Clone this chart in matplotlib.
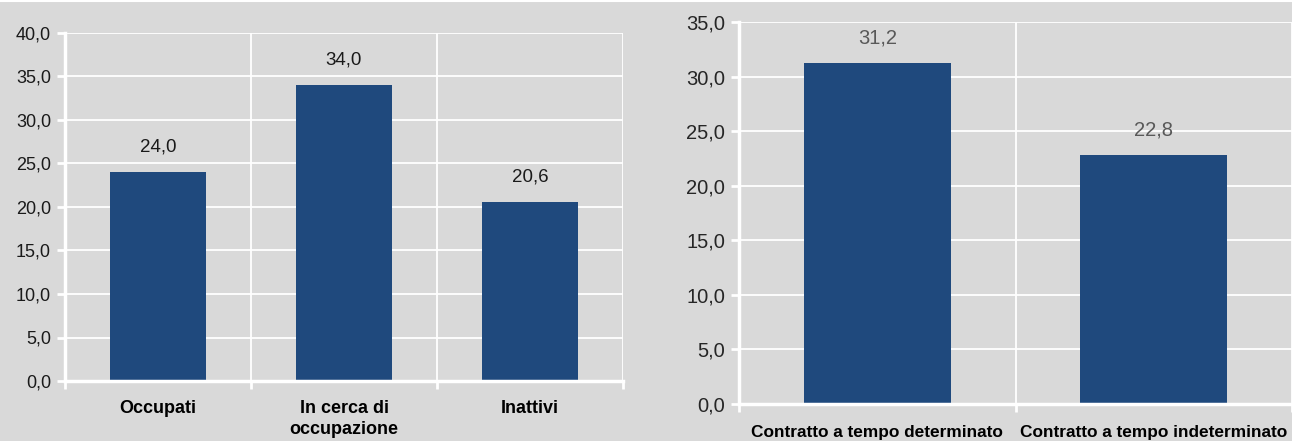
import matplotlib
matplotlib.use("Agg")
import matplotlib.pyplot as plt
from matplotlib.ticker import FuncFormatter, MultipleLocator
from matplotlib.lines import Line2D

# data
cat_left = ["Occupati", "In cerca di\noccupazione", "Inattivi"]
val_left = [24.0, 34.0, 20.6]
cat_right = ["Contratto a tempo determinato", "Contratto a tempo indeterminato"]
val_right = [31.2, 22.8]

bg = "#d9d9d9"
bar_col = "#1f497d"
fam = ["Liberation Sans Narrow", "Liberation Sans", "DejaVu Sans"]
plt.rcParams["font.family"] = fam

comma = FuncFormatter(lambda v, p: f"{v:.1f}".replace(".", ","))

fig = plt.figure(figsize=(12.92, 4.41), dpi=100, facecolor=bg)
ax1 = fig.add_axes([65 / 1292, 1 - 381 / 441, (623 - 65) / 1292, (381 - 33) / 441])
ax2 = fig.add_axes([739 / 1292, 1 - 404 / 441, (1292 - 739) / 1292, (404 - 22) / 441])

# top white strip
fig.add_artist(Line2D([0, 1], [1 - 1 / 441, 1 - 1 / 441], color="white", lw=1.5,
                      transform=fig.transFigure))


def style(ax, cats, vals, ymax, width, tick_fs, tick_col, val_col, val_fs, cat_fs, label_pad):
    ax.set_facecolor(bg)
    x = range(len(cats))
    bars = ax.bar(x, vals, width=width, color=bar_col, zorder=3)
    ax.set_xlim(-0.5, len(cats) - 0.5)
    ax.set_ylim(0, ymax)
    ax.yaxis.set_major_locator(MultipleLocator(5))
    ax.yaxis.set_major_formatter(comma)
    ax.grid(axis="y", color="white", lw=1.3, zorder=0)
    # vertical separators between categories
    for b in [i + 0.5 for i in range(len(cats))]:
        ax.axvline(b, color="white", lw=1.3, zorder=0)
    for s in ["top", "right"]:
        ax.spines[s].set_visible(False)
    for s in ["left", "bottom"]:
        ax.spines[s].set_color("white")
        ax.spines[s].set_linewidth(2.5)
        ax.spines[s].set_zorder(4)
    ax.tick_params(axis="y", colors="white", length=6, width=2, labelcolor=tick_col,
                   labelsize=tick_fs, pad=4)
    ax.set_xticks(list(x))
    ax.set_xticklabels(cats, fontweight="bold", fontsize=cat_fs, color="black",
                       linespacing=1.3)
    ax.tick_params(axis="x", length=0, pad=label_pad)
    ax.set_xticks([i - 0.5 for i in range(len(cats) + 1)], minor=True)
    ax.tick_params(axis="x", which="minor", colors="white", length=6, width=2)
    for r, v in zip(bars, vals):
        ax.annotate(f"{v:.1f}".replace(".", ","), (r.get_x() + r.get_width() / 2, v),
                    xytext=(0, 18), textcoords="offset points", ha="center", va="center",
                    fontsize=val_fs, color=val_col)


style(ax1, cat_left, val_left, 40, 0.52, 13, "#1a1a1a", "#1a1a1a", 13.5, 13, 14)
style(ax2, cat_right, val_right, 35, 0.53, 14.5, "#262626", "#595959", 14.5, 12.4, 15)

fig.savefig("out.png", dpi=100, facecolor=bg)
